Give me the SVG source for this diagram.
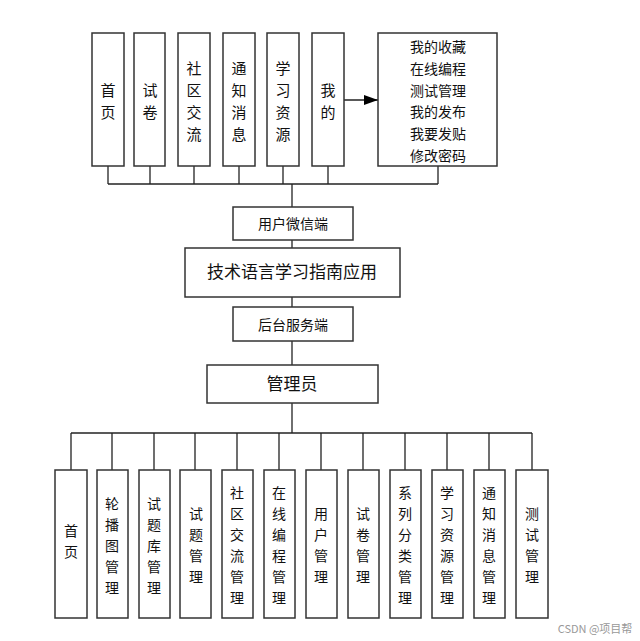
<svg xmlns="http://www.w3.org/2000/svg" width="640" height="641" viewBox="0 0 640 641">
<style>
rect{fill:#fff;stroke:#333;stroke-width:1.5}
line,path.c{stroke:#222;stroke-width:1.3;fill:none}
text{font-family:"Noto Sans CJK SC",sans-serif;fill:#111;text-anchor:middle}
.t{font-size:17px}.v{font-size:15px}.b{font-size:14px}.m{font-size:14px}
</style>
<defs><marker id="a" markerWidth="14" markerHeight="10" refX="14" refY="5" orient="auto" markerUnits="userSpaceOnUse"><path d="M0,0L14,5L0,10z" style="fill:#000;stroke:none"/></marker></defs>
<rect width="640" height="641" style="fill:#fff;stroke:none"/>
<g id="connectors">
<line x1="108" y1="184" x2="438" y2="184"/>
<line x1="108" y1="166" x2="108" y2="184"/><line x1="150" y1="166" x2="150" y2="184"/><line x1="194" y1="166" x2="194" y2="184"/><line x1="239" y1="166" x2="239" y2="184"/><line x1="283" y1="166" x2="283" y2="184"/><line x1="328" y1="166" x2="328" y2="184"/><line x1="438" y1="166" x2="438" y2="184"/>
<line x1="292" y1="184" x2="292" y2="207"/><line x1="292" y1="240" x2="292" y2="248"/><line x1="292" y1="297" x2="292" y2="307"/><line x1="292" y1="341" x2="292" y2="365"/><line x1="292" y1="403" x2="292" y2="433"/>
<line x1="344" y1="100" x2="378" y2="100" marker-end="url(#a)"/>
<line x1="71" y1="433" x2="532" y2="433"/>
<path class="c" d="M71 433V470M112 433V470M154 433V470M195 433V470M237 433V470M279 433V470M321 433V470M363 433V470M405 433V470M447 433V470M489 433V470M532 433V470"/>
</g>
<g id="top">
<g id="n1"><rect x="92" y="33" width="32" height="133"/><text class="v"><tspan x="108" y="96">首</tspan><tspan x="108" y="118">页</tspan></text></g>
<g id="n2"><rect x="134" y="33" width="31" height="133"/><text class="v"><tspan x="150" y="96">试</tspan><tspan x="150" y="118">卷</tspan></text></g>
<g id="n3"><rect x="178" y="33" width="32" height="133"/><text class="v"><tspan x="194" y="74">社</tspan><tspan x="194" y="96">区</tspan><tspan x="194" y="118">交</tspan><tspan x="194" y="140">流</tspan></text></g>
<g id="n4"><rect x="223" y="33" width="32" height="133"/><text class="v"><tspan x="239" y="74">通</tspan><tspan x="239" y="96">知</tspan><tspan x="239" y="118">消</tspan><tspan x="239" y="140">息</tspan></text></g>
<g id="n5"><rect x="267" y="33" width="32" height="133"/><text class="v"><tspan x="283" y="74">学</tspan><tspan x="283" y="96">习</tspan><tspan x="283" y="118">资</tspan><tspan x="283" y="140">源</tspan></text></g>
<g id="n6"><rect x="312" y="33" width="32" height="133"/><text class="v"><tspan x="328" y="96">我</tspan><tspan x="328" y="118">的</tspan></text></g>
<g id="n7"><rect x="378" y="33" width="119" height="133"/><text class="m"><tspan x="438" y="52">我的收藏</tspan><tspan x="438" y="74">在线编程</tspan><tspan x="438" y="96">测试管理</tspan><tspan x="438" y="117">我的发布</tspan><tspan x="438" y="139">我要发贴</tspan><tspan x="438" y="161">修改密码</tspan></text></g>
</g>
<g id="wx"><rect x="233" y="207" width="120" height="33"/><text x="293" y="229" class="b">用户微信端</text></g>
<g id="sys"><rect x="185" y="248" width="215" height="49"/><text x="292" y="278" class="t">技术语言学习指南应用</text></g>
<g id="bk"><rect x="233" y="307" width="120" height="34"/><text x="293" y="330" class="b">后台服务端</text></g>
<g id="admin"><rect x="207" y="365" width="171" height="38"/><text x="292" y="390" class="t">管理员</text></g>
<g id="bottom">
<g id="b1"><rect x="55" y="470" width="32" height="148"/><text class="m"><tspan x="71" y="536">首</tspan><tspan x="71" y="557">页</tspan></text></g>
<g id="b2"><rect x="97" y="470" width="31" height="148"/><text class="m"><tspan x="112" y="509">轮</tspan><tspan x="112" y="530">播</tspan><tspan x="112" y="551">图</tspan><tspan x="112" y="572">管</tspan><tspan x="112" y="593">理</tspan></text></g>
<g id="b3"><rect x="139" y="470" width="31" height="148"/><text class="m"><tspan x="154" y="509">试</tspan><tspan x="154" y="530">题</tspan><tspan x="154" y="551">库</tspan><tspan x="154" y="572">管</tspan><tspan x="154" y="593">理</tspan></text></g>
<g id="b4"><rect x="180" y="470" width="31" height="148"/><text class="m"><tspan x="196" y="519">试</tspan><tspan x="196" y="540">题</tspan><tspan x="196" y="561">管</tspan><tspan x="196" y="582">理</tspan></text></g>
<g id="b5"><rect x="222" y="470" width="31" height="148"/><text class="m"><tspan x="237" y="498">社</tspan><tspan x="237" y="519">区</tspan><tspan x="237" y="540">交</tspan><tspan x="237" y="561">流</tspan><tspan x="237" y="582">管</tspan><tspan x="237" y="603">理</tspan></text></g>
<g id="b6"><rect x="264" y="470" width="31" height="148"/><text class="m"><tspan x="279" y="498">在</tspan><tspan x="279" y="519">线</tspan><tspan x="279" y="540">编</tspan><tspan x="279" y="561">程</tspan><tspan x="279" y="582">管</tspan><tspan x="279" y="603">理</tspan></text></g>
<g id="b7"><rect x="306" y="470" width="31" height="148"/><text class="m"><tspan x="321" y="519">用</tspan><tspan x="321" y="540">户</tspan><tspan x="321" y="561">管</tspan><tspan x="321" y="582">理</tspan></text></g>
<g id="b8"><rect x="348" y="470" width="31" height="148"/><text class="m"><tspan x="363" y="519">试</tspan><tspan x="363" y="540">卷</tspan><tspan x="363" y="561">管</tspan><tspan x="363" y="582">理</tspan></text></g>
<g id="b9"><rect x="390" y="470" width="31" height="148"/><text class="m"><tspan x="405" y="498">系</tspan><tspan x="405" y="519">列</tspan><tspan x="405" y="540">分</tspan><tspan x="405" y="561">类</tspan><tspan x="405" y="582">管</tspan><tspan x="405" y="603">理</tspan></text></g>
<g id="b10"><rect x="432" y="470" width="31" height="148"/><text class="m"><tspan x="447" y="498">学</tspan><tspan x="447" y="519">习</tspan><tspan x="447" y="540">资</tspan><tspan x="447" y="561">源</tspan><tspan x="447" y="582">管</tspan><tspan x="447" y="603">理</tspan></text></g>
<g id="b11"><rect x="474" y="470" width="31" height="148"/><text class="m"><tspan x="489" y="498">通</tspan><tspan x="489" y="519">知</tspan><tspan x="489" y="540">消</tspan><tspan x="489" y="561">息</tspan><tspan x="489" y="582">管</tspan><tspan x="489" y="603">理</tspan></text></g>
<g id="b12"><rect x="516" y="470" width="32" height="148"/><text class="m"><tspan x="532" y="519">测</tspan><tspan x="532" y="540">试</tspan><tspan x="532" y="561">管</tspan><tspan x="532" y="582">理</tspan></text></g>
</g>
<text x="595" y="633" style="font-size:11px;fill:#999">CSDN @项目帮</text>
</svg>
